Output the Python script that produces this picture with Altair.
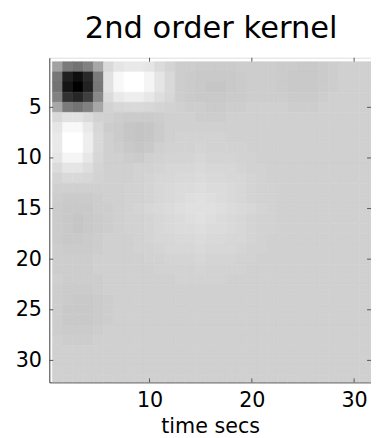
import altair as alt
import pandas as pd

TITLE = "2nd order kernel"
X_LABEL = "time secs"
X_TICKS = [10, 20, 30]
Y_TICKS = [5, 10, 15, 20, 25, 30]

# kernel values (rows 1..32 top to bottom, columns 1..32)
# scale: -100 = black, 0 = background grey, +20 = white
KERNEL_ROWS = [
    "-20 -38 -42 -35 -18 4 9 11 11 9 5 2 -1 -1 -2 -2 -2 -2 -1 -1 -1 -1 -2 -2 -3 -3 -2 -1 0 0 0 0",
    "-40 -85 -95 -80 -38 8 17 20 20 16 9 4 -1 -2 -3 -3 -3 -3 -2 -1 -1 -1 -2 -3 -3 -3 -2 -1 0 0 0 0",
    "-42 -92 -100 -85 -40 8 17 20 20 16 9 4 -1 -2 -3 -4 -4 -3 -2 -1 -1 -1 -2 -3 -3 -3 -2 -1 0 0 0 0",
    "-35 -75 -82 -68 -32 5 11 13 13 10 6 3 -1 -2 -3 -3 -3 -2 -2 -1 -1 -1 -1 -2 -2 -2 -1 0 0 0 0 0",
    "-18 -38 -42 -35 -18 1 3 4 4 3 2 1 0 -1 -1 -2 -2 -1 -1 0 0 0 0 -1 -1 -1 0 0 0 0 0 0",
    "4 8 8 5 1 0 -1 -2 -2 -2 -1 0 0 0 -1 -1 -1 0 0 0 0 0 0 0 0 0 0 0 0 0 0 0",
    "9 17 17 11 3 -1 -2 -4 -5 -4 -2 0 0 0 0 0 0 0 0 0 0 0 0 0 0 0 0 0 0 0 0 0",
    "11 20 20 13 4 0 -2 -4 -5 -4 -2 0 1 1 1 1 1 0 0 0 0 0 0 0 0 0 0 0 0 0 0 0",
    "11 20 20 13 4 0 -1 -3 -4 -3 0 1 1 1 2 1 1 1 1 0 0 0 0 0 0 0 0 0 0 0 0 0",
    "9 16 16 10 3 0 0 -1 -2 0 1 2 2 2 3 2 2 2 1 1 0 0 0 0 0 0 0 0 0 0 0 0",
    "5 9 9 6 2 0 0 0 1 1 2 3 3 3 4 3 3 3 2 1 1 0 0 0 0 0 0 0 0 0 0 0",
    "2 4 4 3 1 0 0 0 1 2 3 3 4 4 5 4 4 3 3 2 1 0 0 0 0 0 0 0 0 0 0 0",
    "0 0 0 0 0 0 0 1 1 2 3 4 5 5 6 5 5 4 3 2 1 1 0 0 0 0 0 0 0 0 0 0",
    "-1 -2 -2 -2 -1 0 0 1 1 2 3 4 5 6 7 6 5 4 3 2 1 1 0 0 0 0 0 0 0 0 0 0",
    "-2 -3 -3 -3 -1 -1 0 1 2 3 4 5 6 7 7 7 6 5 4 3 2 1 0 0 0 0 0 0 0 0 0 0",
    "-2 -3 -4 -3 -2 -1 0 1 1 2 3 4 5 6 7 6 5 4 3 2 1 1 0 0 0 0 0 0 0 0 0 0",
    "-2 -3 -4 -3 -2 -1 0 1 1 2 3 4 5 5 6 5 5 4 3 2 1 1 0 0 0 0 0 0 0 0 0 0",
    "-2 -3 -3 -2 -1 0 0 0 1 2 3 3 4 4 5 4 4 3 3 2 1 0 0 0 0 0 0 0 0 0 0 0",
    "-1 -2 -2 -2 -1 0 0 0 1 1 2 3 3 3 4 3 3 3 2 1 1 0 0 0 0 0 0 0 0 0 0 0",
    "-1 -1 -1 -1 0 0 0 0 0 1 1 2 2 2 3 2 2 2 1 1 0 0 0 0 0 0 0 0 0 0 0 0",
    "-1 -1 -1 -1 0 0 0 0 0 0 1 1 1 1 2 1 1 1 1 0 0 0 0 0 0 0 0 0 0 0 0 0",
    "0 -1 -1 -1 -1 0 0 0 0 0 0 0 1 1 1 1 1 0 0 0 0 0 0 0 0 0 0 0 0 0 0 0",
    "-1 -2 -2 -2 -1 0 0 0 0 0 0 0 0 0 0 0 0 0 0 0 0 0 0 0 0 0 0 0 0 0 0 0",
    "-1 -2 -3 -3 -2 -1 0 0 0 0 0 0 0 0 0 0 0 0 0 0 0 0 0 0 0 0 0 0 0 0 0 0",
    "-1 -3 -3 -3 -2 -1 0 0 0 0 0 0 0 0 0 0 0 0 0 0 0 0 0 0 0 0 0 0 0 0 0 0",
    "-1 -3 -3 -3 -2 -1 0 0 0 0 0 0 0 0 0 0 0 0 0 0 0 0 0 0 0 0 0 0 0 0 0 0",
    "-1 -2 -2 -2 -1 0 0 0 0 0 0 0 0 0 0 0 0 0 0 0 0 0 0 0 0 0 0 0 0 0 0 0",
    "0 -1 -1 -1 0 0 0 0 0 0 0 0 0 0 0 0 0 0 0 0 0 0 0 0 0 0 0 0 0 0 0 0",
    "0 0 0 0 0 0 0 0 0 0 0 0 0 0 0 0 0 0 0 0 0 0 0 0 0 0 0 0 0 0 0 0",
    "0 0 0 0 0 0 0 0 0 0 0 0 0 0 0 0 0 0 0 0 0 0 0 0 0 0 0 0 0 0 0 0",
    "0 0 0 0 0 0 0 0 0 0 0 0 0 0 0 0 0 0 0 0 0 0 0 0 0 0 0 0 0 0 0 0",
    "0 0 0 0 0 0 0 0 0 0 0 0 0 0 0 0 0 0 0 0 0 0 0 0 0 0 0 0 0 0 0 0",
]

records = []
for r, row in enumerate(KERNEL_ROWS, start=1):
    vals = [int(v) for v in row.split()]
    assert len(vals) == 32, (r, len(vals))
    for c, v in enumerate(vals, start=1):
        records.append({"col": c, "row": r, "k": v})
df = pd.DataFrame(records)

W, H = 327, 330
FONT = "DejaVu Sans"

xs = alt.Scale(domain=[0.2, 31.65], nice=False, zero=False)
ys = alt.Scale(domain=[0.1, 32.17], nice=False, zero=False, reverse=True)
cs = alt.Scale(domain=[-100, 20], range=["#000000", "#ffffff"])

x_axis = alt.Axis(
    values=X_TICKS, title=X_LABEL, grid=False, ticks=False, tickSize=0,
    domainColor="#444", domainWidth=1, labelFont=FONT, labelFontSize=21,
    labelColor="black", labelBaseline="alphabetic", labelPadding=25,
    labelFlush=False, titleFont=FONT, titleFontSize=21, titleFontWeight="normal",
    titleColor="black", titleBaseline="alphabetic", titleY=51,
)
y_axis = alt.Axis(
    values=Y_TICKS, title=None, grid=False, ticks=False, tickSize=0,
    domainColor="#444", domainWidth=1, labelFont=FONT, labelFontSize=21,
    labelColor="black", labelPadding=8, labelFlush=False,
)

heat = alt.Chart(df).transform_calculate(
    x0="datum.col - 0.5", x1="datum.col + 0.5",
    y0="datum.row - 0.5", y1="datum.row + 0.5",
).mark_rect(clip=True, strokeWidth=0.6).encode(
    x=alt.X("x0:Q", scale=xs, axis=x_axis),
    x2="x1:Q",
    y=alt.Y("y0:Q", scale=ys, axis=y_axis),
    y2="y1:Q",
    color=alt.Color("k:Q", scale=cs, legend=None),
    stroke=alt.Stroke("k:Q", scale=cs, legend=None),
)

xt = pd.DataFrame({"x0": X_TICKS})
yt = pd.DataFrame({"y0": Y_TICKS})
TICK = dict(color="#555", strokeWidth=1)
bottom_ticks = alt.Chart(xt).mark_rule(**TICK).encode(
    x=alt.X("x0:Q", scale=xs, axis=x_axis), y=alt.value(H), y2=alt.value(H - 4))
top_ticks = alt.Chart(xt).mark_rule(**TICK).encode(
    x=alt.X("x0:Q", scale=xs, axis=x_axis), y=alt.value(0), y2=alt.value(4))
left_ticks = alt.Chart(yt).mark_rule(**TICK).encode(
    y=alt.Y("y0:Q", scale=ys, axis=y_axis), x=alt.value(0), x2=alt.value(4))
right_ticks = alt.Chart(yt).mark_rule(**TICK).encode(
    y=alt.Y("y0:Q", scale=ys, axis=y_axis), x=alt.value(W - 4), x2=alt.value(W))

title_text = alt.Chart(pd.DataFrame({"label": [TITLE]})).mark_text(
    font=FONT, fontSize=31, color="black", align="center", baseline="alphabetic"
).encode(text="label:N", x=alt.value(W / 2 + 1), y=alt.value(-20))

chart = alt.layer(heat, bottom_ticks, top_ticks, left_ticks, right_ticks, title_text).properties(
    width=W,
    height=H,
    padding={"left": 42, "top": 47, "right": 0, "bottom": 52},
    autosize=alt.AutoSizeParams(type="none"),
).configure_view(stroke="#888", fill="#d4d4d4").configure(background="white")

chart.save("out.html", embed_options={"renderer": "svg", "actions": False})
